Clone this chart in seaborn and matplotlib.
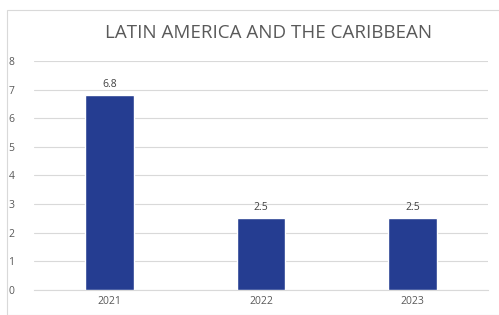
import matplotlib
matplotlib.use("Agg")
import matplotlib.pyplot as plt
import seaborn as sns
import pandas as pd
from matplotlib.patches import Rectangle

years = ["2021", "2022", "2023"]
values = [6.8, 2.5, 2.5]
labels = ["6.8", "2.5", "2.5"]

df = pd.DataFrame({"year": years, "value": values})

sns.set_style("white")
plt.rcParams["font.family"] = ["Open Sans", "DejaVu Sans"]

fig = plt.figure(figsize=(4.99, 3.15), dpi=100)
ax = fig.add_axes([0.068, 0.0794, 0.910, 0.727])

# outer chart border
fig.patches.append(Rectangle((7 / 499, 0), 1.2, 1 - 10 / 315, transform=fig.transFigure,
                             fill=False, edgecolor="#d9d9d9", linewidth=0.8))

sns.barplot(data=df, x="year", y="value", color="#253d91", width=0.32,
            saturation=1, ax=ax, zorder=3)

for i, v in enumerate(values):
    ax.text(i, v + 0.2, labels[i], ha="center", va="bottom", fontsize=7.5, color="#404040")

ax.set_ylim(0, 8)
ax.set_yticks(range(0, 9))
ax.grid(axis="y", color="#d9d9d9", linewidth=0.8, zorder=0)
for s in ["top", "right", "left"]:
    ax.spines[s].set_visible(False)
ax.spines["bottom"].set_color("#d9d9d9")
ax.tick_params(axis="both", length=0, labelsize=7.5, labelcolor="#595959")
ax.tick_params(axis="y", pad=14)
ax.tick_params(axis="x", pad=4)
ax.set_xlabel("")
ax.set_ylabel("")
fig.text(0.539, 1 - 33 / 315, "LATIN AMERICA AND THE CARIBBEAN", ha="center", va="center",
         fontsize=13.5, color="#595959")

fig.savefig("out.png", dpi=100)
